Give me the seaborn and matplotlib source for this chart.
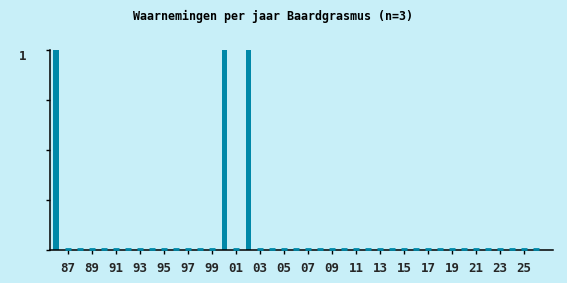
import matplotlib
matplotlib.use("Agg")
import matplotlib.pyplot as plt
import seaborn as sns
import pandas as pd
import numpy as np

years = list(range(1986, 2027))
counts = [1 if y in (1986, 2000, 2002) else 0 for y in years]
tick_years = [y for y in years if y % 2 == 1]
tick_labels = [f"{y % 100:02d}" for y in tick_years]
title = "Waarnemingen per jaar Baardgrasmus (n=3)"

bg = "#c8eff8"
bar_color = "#0088a8"

sns.set_theme(style="white")
plt.rcParams['font.family'] = ['DejaVu Sans Mono']
plt.rcParams['font.weight'] = 'bold'

W, H = 567, 283
fig = plt.figure(figsize=(W / 100, H / 100), dpi=100, facecolor=bg)
ax = fig.add_axes([50 / W, 1 - 250 / H, (553 - 50) / W, 200 / H])
ax.set_facecolor(bg)

df = pd.DataFrame({"year": [str(y) for y in years], "count": counts})
sns.barplot(data=df, x="year", y="count", order=[str(y) for y in years],
            color=bar_color, saturation=1, width=0.42, linewidth=0,
            edgecolor=bar_color, ax=ax)

for s in ["top", "right"]:
    ax.spines[s].set_visible(False)
for s in ["left", "bottom"]:
    ax.spines[s].set_color("black")
    ax.spines[s].set_linewidth(1.1)
    ax.spines[s].set_zorder(2)

# small markers for zero-valued years
zero_pos = [i for i, c in enumerate(counts) if c == 0]
ax.plot(zero_pos, [0.004] * len(zero_pos), linestyle="none", marker="_",
        markersize=4.5, markeredgewidth=2.0, color=bar_color, clip_on=False, zorder=5)

ax.set_xlim(-0.5, 41.4)
ax.set_ylim(0, 1)
ax.set_xticks([years.index(y) for y in tick_years])
ax.set_xticklabels(tick_labels, fontsize=9, fontweight='bold')
ax.set_yticks([0, 0.25, 0.5, 0.75, 1])
ax.set_yticklabels(["", "", "", "", "1"], fontsize=9, fontweight='bold')
ax.set_xlabel("")
ax.set_ylabel("")
ax.tick_params(axis="x", bottom=True, direction="out", length=3, width=1, color="black", pad=6)
ax.tick_params(axis="y", left=True, direction="out", length=3, width=1, color="black", pad=14)
for lbl in ax.get_yticklabels():
    lbl.set_verticalalignment("top")

fig.text(273 / W, 1 - 16 / H, title, ha="center", va="center",
         fontsize=8.4, fontweight='bold', color="black")

fig.savefig("out.png", dpi=100, facecolor=bg)
